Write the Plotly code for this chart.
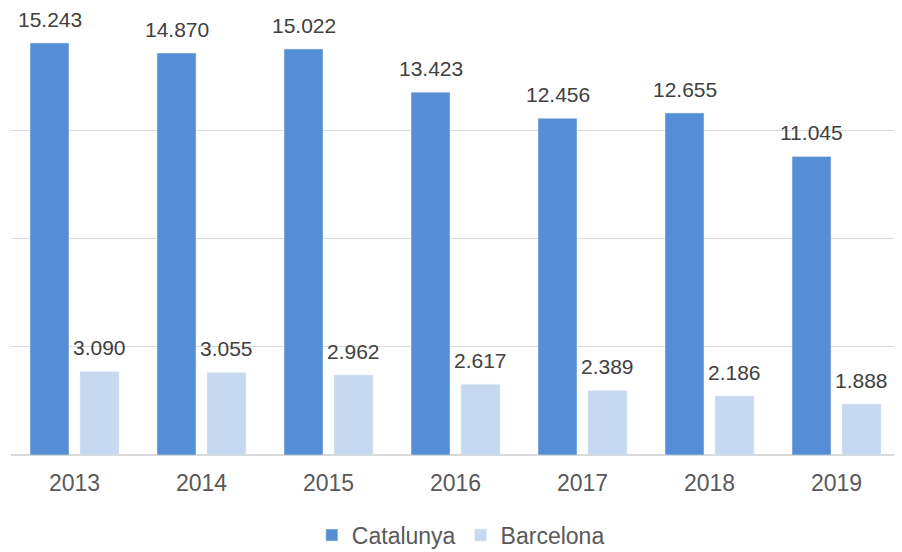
import plotly.graph_objects as go

years = ["2013", "2014", "2015", "2016", "2017", "2018", "2019"]
catalunya = [15.243, 14.870, 15.022, 13.423, 12.456, 12.655, 11.045]
barcelona = [3.090, 3.055, 2.962, 2.617, 2.389, 2.186, 1.888]
labels_cat = ["15.243", "14.870", "15.022", "13.423", "12.456", "12.655", "11.045"]
labels_bcn = ["3.090", "3.055", "2.962", "2.617", "2.389", "2.186", "1.888"]

FONT = "Liberation Sans, Arial, sans-serif"

fig = go.Figure()
fig.add_trace(go.Bar(name="Catalunya", x=years, y=catalunya, marker_color="#558ED5"))
fig.add_trace(go.Bar(name="Barcelona", x=years, y=barcelona, marker_color="#C6D9F1"))

# on a category axis, annotation x is the category's serial index
for i, (v, t) in enumerate(zip(catalunya, labels_cat)):
    fig.add_annotation(x=i, y=v, text=t, showarrow=False, xshift=-25, yshift=10,
                       yanchor="bottom", font=dict(family=FONT, size=21, color="#404040"))
for i, (v, t) in enumerate(zip(barcelona, labels_bcn)):
    fig.add_annotation(x=i, y=v, text=t, showarrow=False, xshift=25, yshift=10,
                       yanchor="bottom", font=dict(family=FONT, size=21, color="#404040"))

# page body has an 8px default margin, so the figure is sized to fit the 902x552 window
fig.update_layout(
    width=894, height=544,
    margin=dict(l=3, r=2, t=14, b=97, autoexpand=False),
    paper_bgcolor="white", plot_bgcolor="white",
    barmode="group", bargap=0.213, bargroupgap=0.22,
    font=dict(family=FONT, color="#595959"),
    showlegend=True,
    legend=dict(orientation="h", x=0.506, xanchor="center", y=-0.185, yanchor="middle",
                font=dict(family=FONT, size=23, color="#595959")),
)
fig.update_xaxes(type="category", range=[-0.5, len(years) - 0.5], showgrid=False, showline=False,
                 ticks="", ticklabelstandoff=12,
                 tickfont=dict(family=FONT, size=23, color="#595959"), automargin=False)
fig.update_yaxes(range=[0, 16.02], tickvals=[4, 8, 12, 16], showticklabels=False, showgrid=True,
                 gridcolor="#D9D9D9", gridwidth=1, zeroline=True, zerolinecolor="#D9D9D9",
                 zerolinewidth=2, showline=False, automargin=False)

fig.write_html("out.html")
